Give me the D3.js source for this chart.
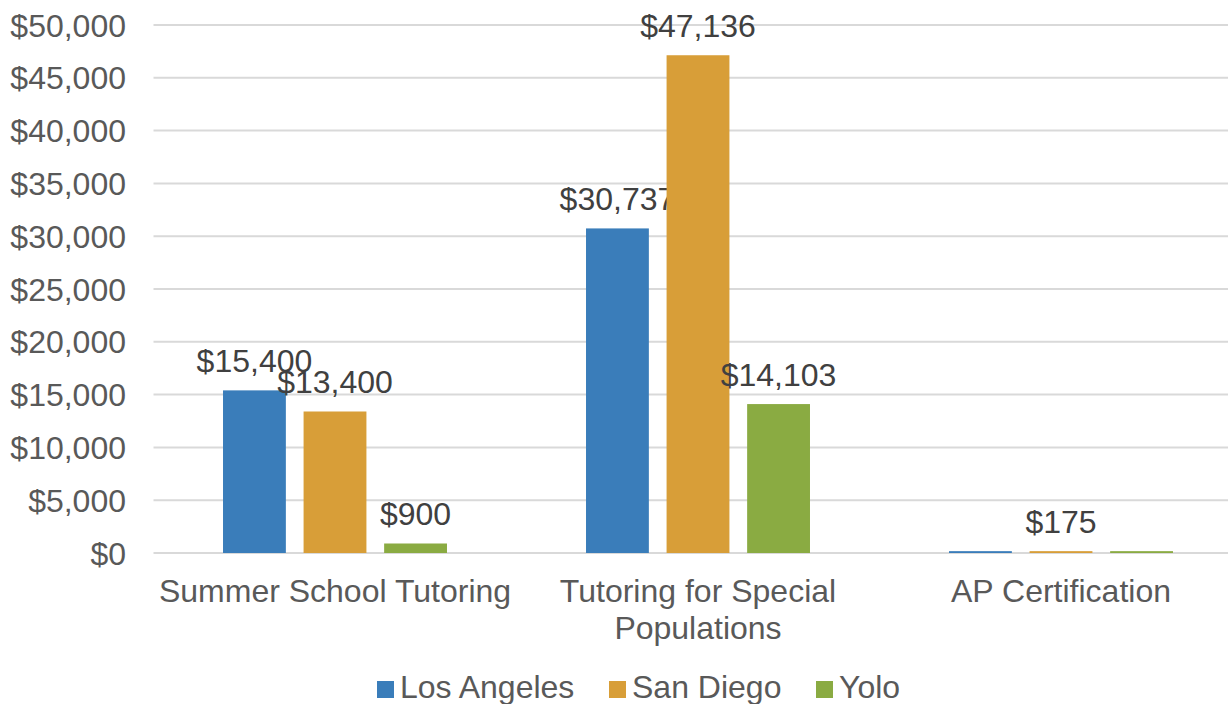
<!DOCTYPE html>
<html>
<head>
<meta charset="utf-8">
<script src="https://cdn.jsdelivr.net/npm/d3@7"></script>
<style>
  body { margin: 0; background: #fff; }
  svg { display: block; font-family: "Liberation Sans", Arial, sans-serif; }
</style>
</head>
<body>
<svg id="chart" width="1228" height="704"></svg>
<script>
// chart data
const categories = ['Summer School Tutoring', 'Tutoring for Special Populations', 'AP Certification']
const categoryLines = [['Summer School Tutoring'], ['Tutoring for Special', 'Populations'], ['AP Certification']]
const seriesNames = ['Los Angeles', 'San Diego', 'Yolo']
const losAngeles = [15400, 30737, 175]
const sanDiego = [13400, 47136, 175]
const yolo = [900, 14103, 175]
// which data labels are shown, per category (AP only carries the San Diego label)
const showLabels = [[true, true, true], [true, true, true], [false, true, false]]
const yTicks = [0, 5000, 10000, 15000, 20000, 25000, 30000, 35000, 40000, 45000, 50000]
const colors = ['#3a7dba', '#d89e38', '#8aab42']

const seriesValues = [losAngeles, sanDiego, yolo]

const svg = d3.select('#chart')
const plotLeft = 153.5, plotRight = 1228, plotTop = 25, plotBottom = 553
const fontSize = 32

const x0 = d3.scaleBand()
  .domain(categories)
  .range([plotLeft, plotLeft + 363 * 3])
  .paddingInner(0.383)
  .paddingOuter(0.1915)

const x1 = d3.scaleBand()
  .domain(seriesNames)
  .range([0, x0.bandwidth()])
  .paddingInner(0.22)

const y = d3.scaleLinear()
  .domain([0, 50000])
  .range([plotBottom, plotTop])

const fmt = v => '$' + d3.format(',')(v)

// gridlines
svg.append('g')
  .selectAll('line')
  .data(yTicks)
  .enter().append('line')
  .attr('x1', plotLeft)
  .attr('x2', plotRight)
  .attr('y1', d => y(d))
  .attr('y2', d => y(d))
  .attr('stroke', '#d9d9d9')
  .attr('stroke-width', 2)

// y tick labels
svg.append('g')
  .selectAll('text')
  .data(yTicks)
  .enter().append('text')
  .attr('x', 126)
  .attr('y', d => y(d))
  .attr('dy', '0.36em')
  .attr('text-anchor', 'end')
  .attr('font-size', fontSize)
  .attr('fill', '#595959')
  .text(fmt)

// bars
const groups = svg.append('g')
  .selectAll('g')
  .data(categories)
  .enter().append('g')
  .attr('transform', d => `translate(${x0(d)},0)`)

const cells = groups.selectAll('g')
  .data((c, ci) => seriesNames.map((s, si) => ({ s, si, ci, v: seriesValues[si][ci] })))
  .enter().append('g')

cells.append('rect')
  .attr('x', d => x1(d.s))
  .attr('width', x1.bandwidth())
  .attr('y', d => y(d.v))
  .attr('height', d => plotBottom - y(d.v))
  .attr('fill', d => colors[d.si])

cells.filter(d => showLabels[d.ci][d.si])
  .append('text')
  .attr('x', d => x1(d.s) + x1.bandwidth() / 2)
  .attr('y', d => y(d.v) - 18)
  .attr('text-anchor', 'middle')
  .attr('font-size', fontSize)
  .attr('fill', '#404040')
  .text(d => fmt(d.v))

// category labels
svg.append('g')
  .selectAll('text')
  .data(categories)
  .enter().append('text')
  .attr('x', d => x0(d) + x0.bandwidth() / 2)
  .attr('y', 602)
  .attr('text-anchor', 'middle')
  .attr('font-size', fontSize)
  .attr('fill', '#595959')
  .each(function (d, i) {
    d3.select(this).selectAll('tspan')
      .data(categoryLines[i])
      .enter().append('tspan')
      .attr('x', x0(d) + x0.bandwidth() / 2)
      .attr('dy', (t, j) => j === 0 ? 0 : 37)
      .text(t => t)
  })

// legend
const legendX = [377, 609, 816]
const legend = svg.append('g')
  .selectAll('g')
  .data(seriesNames)
  .enter().append('g')
  .attr('transform', (d, i) => `translate(${legendX[i]},681)`)

legend.append('rect')
  .attr('width', 17)
  .attr('height', 17)
  .attr('fill', (d, i) => colors[i])

legend.append('text')
  .attr('x', 23)
  .attr('y', 17)
  .attr('font-size', fontSize)
  .attr('fill', '#595959')
  .text(d => d)
</script>
</body>
</html>
